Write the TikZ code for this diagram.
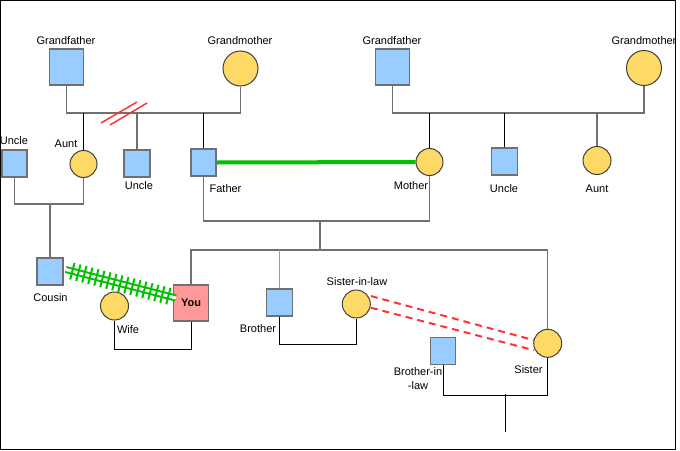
\documentclass[tikz,border=0pt]{standalone}
\usepackage{fontspec}
\setmainfont{Liberation Sans}
\usetikzlibrary{calc}
\usetikzlibrary{decorations.markings}
\usetikzlibrary{positioning}

\definecolor{male}{HTML}{99CCFF}
\definecolor{female}{HTML}{FFD966}
\definecolor{self}{HTML}{FF9999}
\definecolor{edge}{HTML}{707070}
\definecolor{rim}{HTML}{404040}
\definecolor{wed}{HTML}{00C000}
\definecolor{feud}{HTML}{FF3333}

\begin{document}
\begin{tikzpicture}[x=1pt, y=-1pt,
    man/.style={rectangle, draw=edge, fill=male, line width=1.5pt, minimum width=26pt, minimum height=27pt, inner sep=0pt},
    woman/.style={circle, draw=rim, fill=female, line width=1pt, minimum size=28pt, inner sep=0pt},
    txt/.style={inner sep=0pt, font=\fontsize{11}{14}\selectfont},
    famline/.style={draw=edge, line width=1.5pt},
    thinline/.style={draw=black, line width=1pt}]
    \useasboundingbox (0, 0) rectangle (680, 450);
    \draw [line width=1pt] (0.5, 0.5) rectangle (675.5, 449.5);

    \node [man, minimum width=34pt, minimum height=36pt] (gfL) at (66.5, 67) {};
    \node [woman, minimum size=35pt] (gmL) at (240.5, 68.5) {};
    \node [man, minimum width=34pt, minimum height=36pt] (gfR) at (392.5, 67) {};
    \node [woman, minimum size=35pt] (gmR) at (644, 68) {};

    \node [man, minimum width=25pt] (uncleA) at (14.5, 163.5) {};
    \node [woman, minimum size=27pt] (auntA) at (83.5, 164) {};
    \node [man] (uncleB) at (137, 163.5) {};
    \node [man, minimum width=25pt] (father) at (203.5, 162.5) {};
    \node [woman, minimum size=27pt] (mother) at (429.5, 162) {};
    \node [man] (uncleC) at (504.5, 161.5) {};
    \node [woman] (auntB) at (597, 160.5) {};

    \node [man] (cousin) at (50, 271.5) {};
    \node [woman] (wife) at (114.5, 306) {};
    \node [man, fill=self, minimum width=35pt, minimum height=36pt, txt, font=\fontsize{11}{14}\selectfont\bfseries] (you) at (191, 303) {You};
    \node [man] (brother) at (279.5, 302.7) {};
    \node [woman] (sil) at (356.3, 304) {};
    \node [woman] (sister) at (547.7, 343.3) {};
    \node [man, minimum width=25pt] (bil) at (443.2, 350.8) {};

    \node [txt] (gfLtxt) at (66, 41) {Grandfather};
    \node [txt] (gmLtxt) at (240, 41) {Grandmother};
    \node [txt] (gfRtxt) at (392, 41) {Grandfather};
    \node [txt] (gmRtxt) at (644, 41) {Grandmother};
    \node [txt] (uncleAtxt) at (14, 141) {Uncle};
    \node [txt] (auntAtxt) at (66, 144) {Aunt};
    \node [txt] (uncleBtxt) at (139, 186) {Uncle};
    \node [txt] (fathertxt) at (225.5, 188.5) {Father};
    \node [txt] (mothertxt) at (411, 186) {Mother};
    \node [txt] (uncleCtxt) at (504, 188.5) {Uncle};
    \node [txt] (auntBtxt) at (597, 188.5) {Aunt};
    \node [txt] (cousintxt) at (50.5, 297.5) {Cousin};
    \node [txt] (wifetxt) at (128, 330) {Wife};
    \node [txt] (brothertxt) at (258, 329) {Brother};
    \node [txt] (siltxt) at (357, 282) {Sister-in-law};
    \node [txt] (sistertxt) at (528.5, 369.5) {Sister};
    \node [txt, align=center] (biltxt) at (418, 379) {Brother-in\\-law};

    \coordinate (sibL) at (0, 113);
    \coordinate (sibR) at (0, 113);
    \coordinate (kidsA) at (50, 204);
    \coordinate (kidsP) at (320, 221);
    \coordinate (sibs) at (320, 250);
    \coordinate (kidsS) at (505, 394);

    \draw [famline] (gfL.south) |- (gmL.south |- sibL) -- (gmL.south);
    \draw [thinline] (auntA.north) -- (auntA.north |- sibL);
    \draw [famline] (uncleB.north) -- (uncleB.north |- sibL);
    \draw [thinline] (father.north) -- (father.north |- sibL);
    \draw [feud, line width=1.5pt] (101, 123) -- (137, 102);
    \draw [feud, line width=1.5pt] (110, 125) -- (147, 103);

    \draw [famline] (gfR.south) |- (gmR.south |- sibR) -- (gmR.south);
    \draw [thinline] (mother.north) -- (mother.north |- sibR);
    \draw [thinline] (uncleC.north) -- (uncleC.north |- sibR);
    \draw [famline] (auntB.north) -- (auntB.north |- sibR);

    \draw [famline] (uncleA.south) |- (kidsA) -| (auntA.south);
    \draw [famline] (kidsA) -- (cousin.north);

    \draw [wed, line width=4pt] (father.east) -- (mother.west);
    \draw [famline] (father.south) |- (kidsP) -| (mother.south);
    \draw [famline] (kidsP) -- (sibs);
    \draw [famline] (you.north) -- (you.north |- sibs) -- (sister.north |- sibs) -- (sister.north);
    \draw [famline, draw=edge!70] (brother.north) -- (brother.north |- sibs);

    \draw [thinline] (wife.south) -- ++(0, 29) -| (you.south);
    \draw [thinline] (brother.south) -- ++(0, 28) -| (sil.south);
    \draw [thinline] (bil.south) -- ++(0, 30) -| (sister.south);
    \draw [thinline] (kidsS) -- ++(0, 38);

    \draw [wed, line width=2pt, double=white, double distance=3pt] ($(cousin.east) + (2, -2)$) -- ($(you.west) + (3, -5)$);
    \path [decorate, decoration={markings, mark=between positions 0.06 and 0.94 step 6.2pt with {\draw [wed, line width=2pt] (0pt, -8.5pt) -- (0pt, 8.5pt);}}] ($(cousin.east) + (2, -2)$) -- ($(you.west) + (3, -5)$);

    \draw [feud, line width=2pt, dash pattern=on 7pt off 5pt] ($(sil.east) + (0, -8)$) -- ($(sister.west) + (1, -3)$);
    \draw [feud, line width=2pt, dash pattern=on 7pt off 5pt] ($(sil.east) + (0, 3.7)$) -- ($(sister.west) + (1, 7)$);
  \end{tikzpicture}
\end{document}
